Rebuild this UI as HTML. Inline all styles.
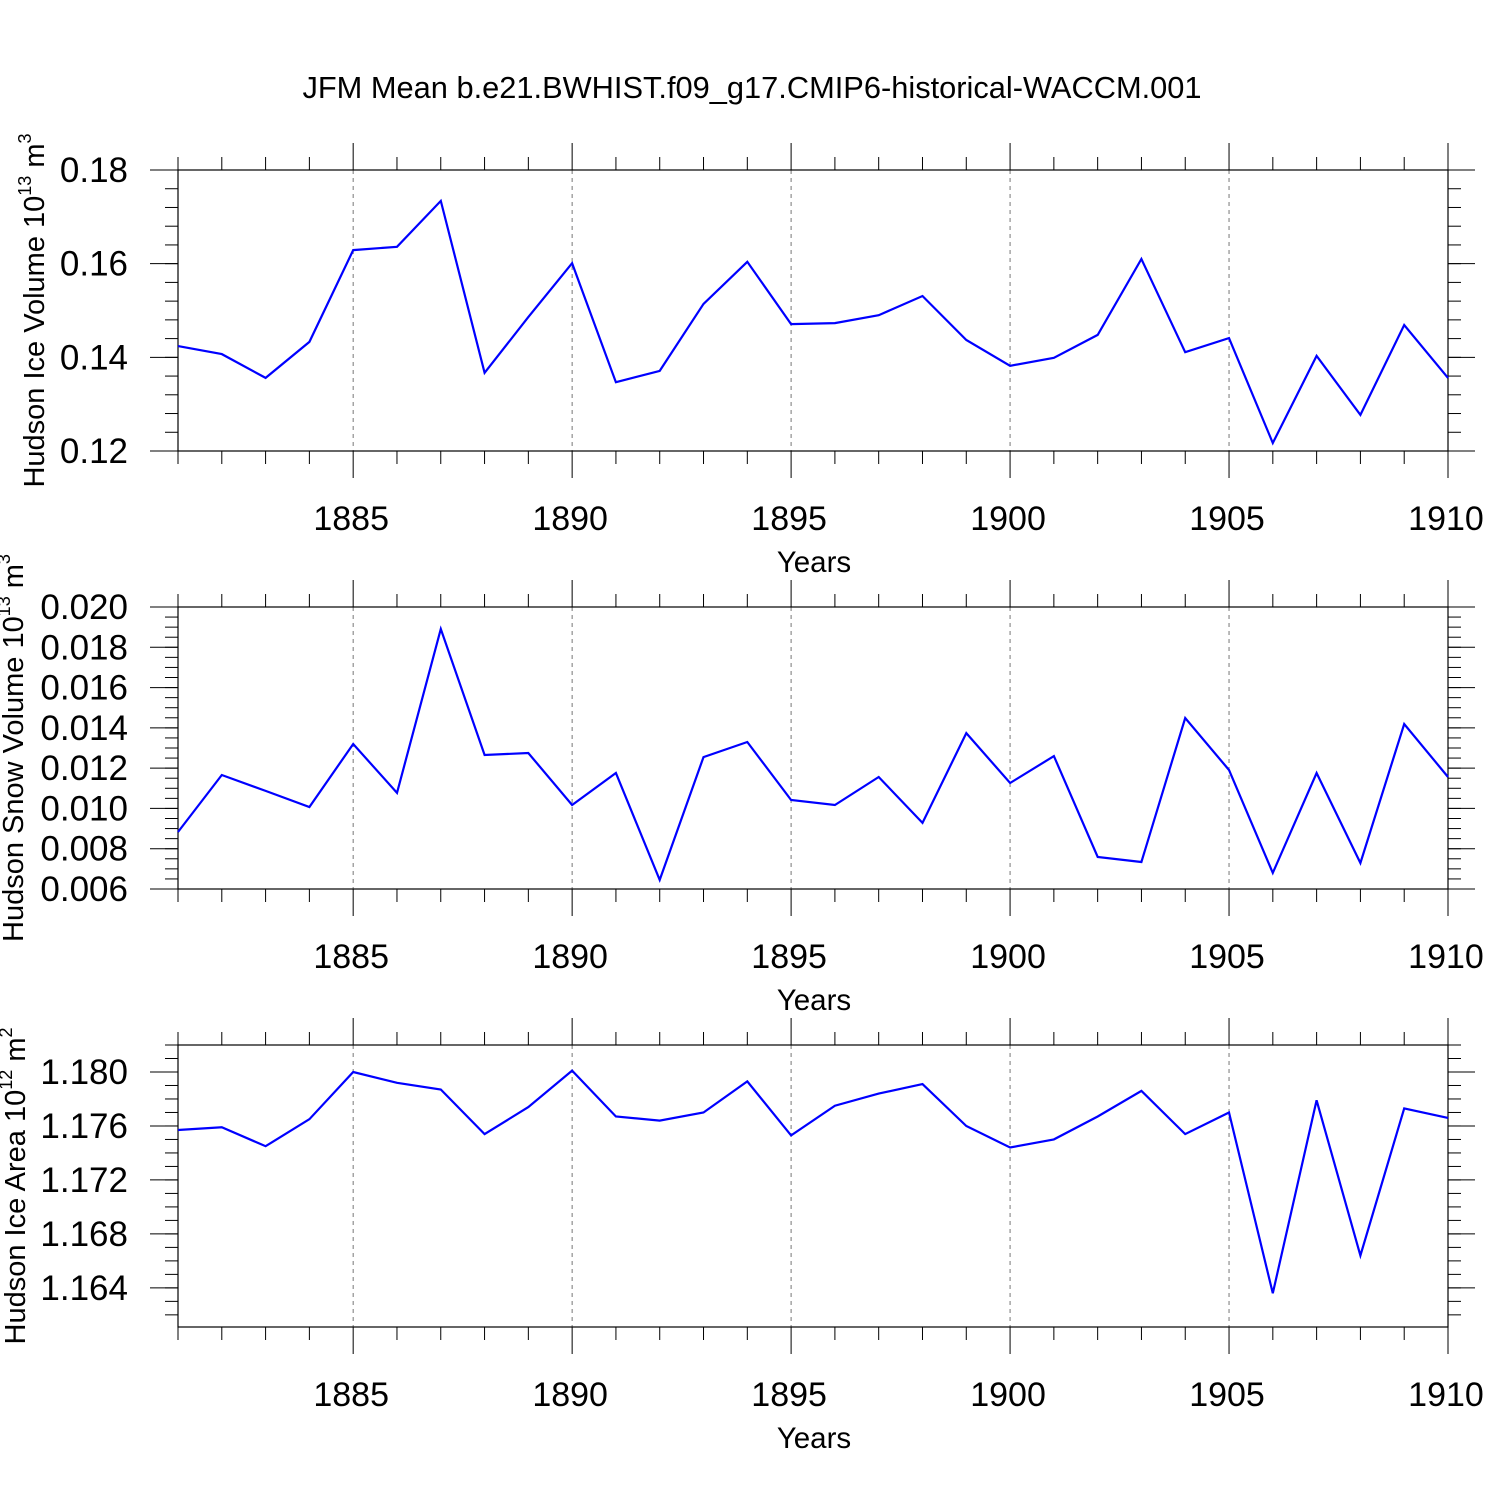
<!DOCTYPE html>
<html><head><meta charset="utf-8"><style>
html,body{margin:0;padding:0;background:#fff;}
svg{display:block;font-family:"Liberation Sans",Arial,sans-serif;}
</style></head><body>
<svg id="chart" width="1500" height="1500" viewBox="0 0 1500 1500">
<text x="752" y="98" font-size="30.8" text-anchor="middle">JFM Mean b.e21.BWHIST.f09_g17.CMIP6-historical-WACCM.001</text>
</svg>
<script>
const years = [1881,1882,1883,1884,1885,1886,1887,1888,1889,1890,1891,1892,1893,1894,1895,1896,1897,1898,1899,1900,1901,1902,1903,1904,1905,1906,1907,1908,1909,1910];
const iceVolume = [0.1424,0.1407,0.1356,0.1433,0.1629,0.1636,0.1734,0.1367,0.1486,0.1601,0.1347,0.1371,0.1514,0.1604,0.1471,0.1473,0.1490,0.1531,0.1437,0.1382,0.1399,0.1448,0.1610,0.1411,0.1441,0.1217,0.1403,0.1277,0.1469,0.1356];
const snowVolume = [0.00883,0.01166,0.01087,0.01007,0.0132,0.01077,0.01891,0.01265,0.01275,0.01017,0.01176,0.00645,0.01255,0.0133,0.01042,0.01017,0.01156,0.00928,0.01374,0.01126,0.0126,0.00759,0.00734,0.01449,0.01191,0.0068,0.01176,0.00729,0.01419,0.01156];
const iceArea = [1.1757,1.1759,1.1745,1.1765,1.1800,1.1792,1.1787,1.1754,1.1774,1.1801,1.1767,1.1764,1.1770,1.1793,1.1753,1.1775,1.1784,1.1791,1.1760,1.1744,1.1750,1.1767,1.1786,1.1754,1.1770,1.1636,1.1779,1.1664,1.1773,1.1766];
const xTickLabels = [1885,1890,1895,1900,1905,1910];
const iceVolTicks = [0.12,0.14,0.16,0.18];
const snowTicks = [0.006,0.008,0.010,0.012,0.014,0.016,0.018,0.020];
const areaTicks = [1.164,1.168,1.172,1.176,1.180];

const NS="http://www.w3.org/2000/svg";
const svg=document.getElementById('chart');
function mk(tag,attrs,parent){const e=document.createElementNS(NS,tag);for(const k in attrs)e.setAttribute(k,attrs[k]);(parent||svg).appendChild(e);return e;}
const X0=178,X1=1448;
function xs(yr){return X0+(yr-1881)/(1910-1881)*(X1-X0);}

function panel(name,top,bot,ymin,ymax,data,ticks,dec,minorStep,title,sup,unitExp,titleX){
  const g=mk('g',{});
  
  
  const ys=v=>bot-(v-ymin)/(ymax-ymin)*(bot-top);
  xTickLabels.forEach(t=>{if(t<1910){const l=mk('line',{x1:xs(t),x2:xs(t),y1:top,y2:bot,stroke:'#777','stroke-width':1,'stroke-dasharray':'4,4'},g);}});
  for(let yr=1881;yr<=1910;yr++){
    const major=xTickLabels.includes(yr);const L=major?27:13;const x=xs(yr);
    mk('line',{x1:x,x2:x,y1:top,y2:top-L,stroke:'#000','stroke-width':1},g);
    mk('line',{x1:x,x2:x,y1:bot,y2:bot+L,stroke:'#000','stroke-width':1},g);
  }
  xTickLabels.forEach(t=>{const tx=mk('text',{x:xs(t)-2,y:bot+79,'font-size':34,'text-anchor':'middle'},g);tx.textContent=t;});
  const start=Math.ceil((ymin-1e-9)/minorStep);
  for(let i=start;i*minorStep<=ymax+1e-9;i++){const v=i*minorStep;const y=ys(v);
    mk('line',{x1:X0,x2:X0-13,y1:y,y2:y,stroke:'#000','stroke-width':1},g);
    mk('line',{x1:X1,x2:X1+13,y1:y,y2:y,stroke:'#000','stroke-width':1},g);}
  ticks.forEach(v=>{const y=ys(v);
    mk('line',{x1:X0,x2:X0-28,y1:y,y2:y,stroke:'#000','stroke-width':1},g);
    mk('line',{x1:X1,x2:X1+27,y1:y,y2:y,stroke:'#000','stroke-width':1},g);
    const tx=mk('text',{x:128,y:y+12,'font-size':35,'text-anchor':'end'},g);tx.textContent=v.toFixed(dec);
    });
  const fr=mk('rect',{x:X0,y:top,width:X1-X0,height:bot-top,fill:'none',stroke:'#000','stroke-width':1.2},g);
  
  const pts=data.map((v,i)=>xs(years[i]).toFixed(1)+','+ys(v).toFixed(1)).join(' ');
  const pl=mk('polyline',{points:pts,fill:'none',stroke:'#0000ff','stroke-width':2.2,'stroke-linejoin':'miter'},g);
  
  const xt=mk('text',{x:814,y:bot+121,'font-size':29.5,'text-anchor':'middle'},g);xt.textContent='Years';
  
  const cy=(top+bot)/2;
  const yt=mk('text',{x:0,y:0,'font-size':29,'text-anchor':'middle',transform:`translate(${titleX},${cy}) rotate(-90)`},g);
  
  const t1=mk('tspan',{},yt);t1.textContent=title+' 10';
  const t2=mk('tspan',{dy:-13,'font-size':18},yt);t2.textContent=unitExp;
  const t3=mk('tspan',{dy:13},yt);t3.textContent=' m';
  const t4=mk('tspan',{dy:-13,'font-size':18},yt);t4.textContent=sup;
}
panel('ice-volume',170,451,0.12,0.18,iceVolume,iceVolTicks,2,0.004,'Hudson Ice Volume','3','13',44);
panel('snow-volume',607,889,0.006,0.020,snowVolume,snowTicks,3,0.0005,'Hudson Snow Volume','3','13',23);
panel('ice-area',1045,1327,1.1611,1.182,iceArea,areaTicks,3,0.001,'Hudson Ice Area','2','12',25);
</script>
</body></html>
